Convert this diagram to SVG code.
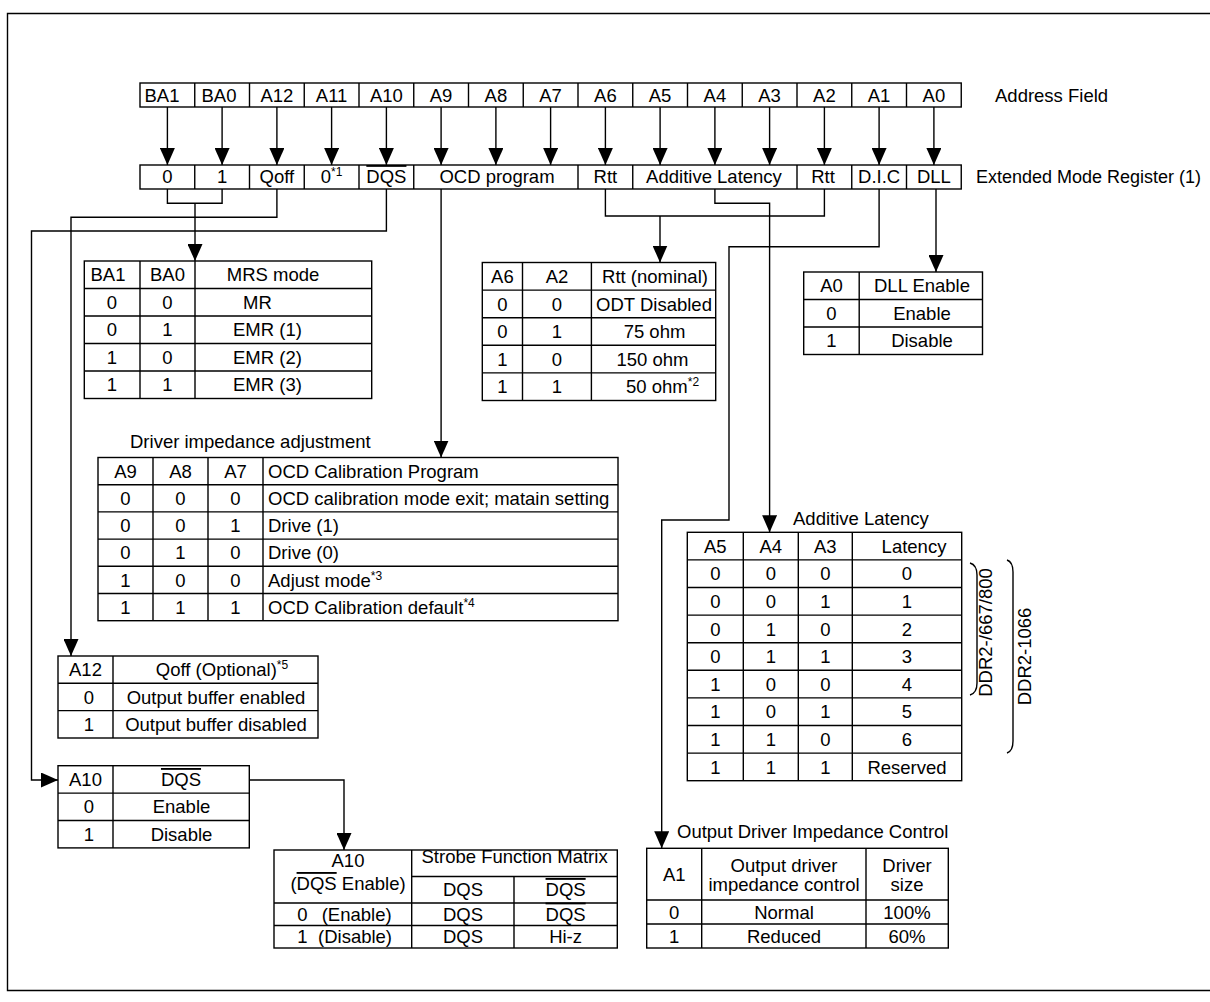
<svg xmlns="http://www.w3.org/2000/svg" width="1210" height="1002" viewBox="0 0 1210 1002">
<defs>
<marker id="ah" markerUnits="userSpaceOnUse" viewBox="0 0 17 15" markerWidth="17" markerHeight="15" refX="17" refY="7.5" orient="auto"><path d="M0,0 L17,7.5 L0,15 Z" fill="#000"/></marker>
<style>
text{font-family:"Liberation Sans",Arial,Helvetica,sans-serif;font-size:18.5px;fill:#000}
.c{text-anchor:middle}
.cell{fill:#fff;stroke:#000;stroke-width:1.4}
.ln{fill:none;stroke:#000;stroke-width:1.4}
.w{fill:none;stroke:#000;stroke-width:1.4}
.a{fill:none;stroke:#000;stroke-width:1.4;marker-end:url(#ah)}
.ov{text-decoration:overline}
.sup{font-size:12px}
</style>
</defs>
<rect width="1210" height="1002" fill="#fff"/>
<path class="ln" d="M1210,13.5H7.5V990.5H1210"/>

<g id="address-field">
<rect class="cell" x="140" y="83" width="821.25" height="24"/>
<path class="ln" d="M194.75,83V107M249.5,83V107M304.25,83V107M359,83V107M413.75,83V107M468.5,83V107M523.25,83V107M578,83V107M632.75,83V107M687.5,83V107M742.25,83V107M797,83V107M851.75,83V107M906.5,83V107"/>
<text class="c" x="162" y="101.5">BA1</text>
<text class="c" x="219" y="101.5">BA0</text>
<text class="c" x="276.9" y="101.5">A12</text>
<text class="c" x="331.6" y="101.5">A11</text>
<text class="c" x="386.4" y="101.5">A10</text>
<text class="c" x="441.1" y="101.5">A9</text>
<text class="c" x="495.9" y="101.5">A8</text>
<text class="c" x="550.6" y="101.5">A7</text>
<text class="c" x="605.4" y="101.5">A6</text>
<text class="c" x="660.1" y="101.5">A5</text>
<text class="c" x="714.9" y="101.5">A4</text>
<text class="c" x="769.6" y="101.5">A3</text>
<text class="c" x="824.4" y="101.5">A2</text>
<text class="c" x="879.1" y="101.5">A1</text>
<text class="c" x="933.9" y="101.5">A0</text>
<text x="995" y="101.5">Address Field</text>
</g>

<g id="emr1">
<rect class="cell" x="140" y="165" width="821.25" height="24"/>
<path class="ln" d="M194.75,165V189M249.5,165V189M304.25,165V189M359,165V189M413.75,165V189M578,165V189M632.75,165V189M797,165V189M851.75,165V189M906.5,165V189"/>
<text class="c" x="167.4" y="183">0</text>
<text class="c" x="222.1" y="183">1</text>
<text class="c" x="276.9" y="183">Qoff</text>
<text class="c" x="331.6" y="183">0<tspan class="sup" dy="-7">*1</tspan></text>
<text class="c" x="386.4" y="183"><tspan class="ov">DQS</tspan></text>
<text class="c" x="497" y="183">OCD program</text>
<text class="c" x="605.4" y="183">Rtt</text>
<text class="c" x="714" y="183">Additive Latency</text>
<text class="c" x="823" y="183">Rtt</text>
<text class="c" x="879.1" y="183">D.I.C</text>
<text class="c" x="933.9" y="183">DLL</text>
<text x="976" y="183" style="font-size:18px">Extended Mode Register (1)</text>
</g>

<g id="connectors">
<path class="a" d="M167.4,107V165"/>
<path class="a" d="M222.1,107V165"/>
<path class="a" d="M276.9,107V165"/>
<path class="a" d="M331.6,107V165"/>
<path class="a" d="M386.4,107V165"/>
<path class="a" d="M441.1,107V165"/>
<path class="a" d="M495.9,107V165"/>
<path class="a" d="M550.6,107V165"/>
<path class="a" d="M605.4,107V165"/>
<path class="a" d="M660.1,107V165"/>
<path class="a" d="M714.9,107V165"/>
<path class="a" d="M769.6,107V165"/>
<path class="a" d="M824.4,107V165"/>
<path class="a" d="M879.1,107V165"/>
<path class="a" d="M933.9,107V165"/>
<path class="w" d="M167.4,189V203.3H222.1V189"/>
<path class="a" d="M195,203.3V261"/>
<path class="a" d="M276.9,189V217.3H71V656"/>
<path class="a" d="M386.4,189V231H31.5V780H58"/>
<path class="a" d="M441.1,189V457.5"/>
<path class="w" d="M605.4,189V216H824.4V189"/>
<path class="a" d="M660,216V262.5"/>
<path class="a" d="M714.9,189V203.3H769.6V532.3"/>
<path class="a" d="M879.1,189V246.7H729V520H661.7V848.3"/>
<path class="a" d="M936,189V272"/>
<path class="a" d="M249.3,780H344V850"/>
</g>

<g id="mrs-table">
<rect class="cell" x="84.3" y="261" width="287.4" height="137.5"/>
<path class="ln" d="M140,261V398.5M195,261V398.5M84.3,288.5H371.7M84.3,316H371.7M84.3,343.5H371.7M84.3,371H371.7"/>
<text class="c" x="108" y="281.3">BA1</text>
<text class="c" x="167.5" y="281.3">BA0</text>
<text class="c" x="273" y="281.3">MRS mode</text>
<text class="c" x="112" y="308.8">0</text><text class="c" x="167.5" y="308.8">0</text><text x="243" y="308.8">MR</text>
<text class="c" x="112" y="336.3">0</text><text class="c" x="167.5" y="336.3">1</text><text x="233" y="336.3">EMR (1)</text>
<text class="c" x="112" y="363.8">1</text><text class="c" x="167.5" y="363.8">0</text><text x="233" y="363.8">EMR (2)</text>
<text class="c" x="112" y="391.3">1</text><text class="c" x="167.5" y="391.3">1</text><text x="233" y="391.3">EMR (3)</text>
</g>

<g id="rtt-table">
<rect class="cell" x="482.3" y="262.5" width="233.4" height="138"/>
<path class="ln" d="M522.5,262.5V400.5M591.4,262.5V400.5M482.3,290.1H715.7M482.3,317.7H715.7M482.3,345.3H715.7M482.3,372.9H715.7"/>
<text class="c" x="502.4" y="282.9">A6</text>
<text class="c" x="557" y="282.9">A2</text>
<text class="c" x="655" y="282.9">Rtt (nominal)</text>
<text class="c" x="502.4" y="310.5">0</text><text class="c" x="557" y="310.5">0</text><text class="c" x="654" y="310.5">ODT Disabled</text>
<text class="c" x="502.4" y="338.1">0</text><text class="c" x="557" y="338.1">1</text><text class="c" x="654.5" y="338.1">75 ohm</text>
<text class="c" x="502.4" y="365.7">1</text><text class="c" x="557" y="365.7">0</text><text class="c" x="652.5" y="365.7">150 ohm</text>
<text class="c" x="502.4" y="393.3">1</text><text class="c" x="557" y="393.3">1</text><text x="626" y="393.3">50 ohm<tspan class="sup" dy="-7">*2</tspan></text>
</g>

<g id="dll-table">
<rect class="cell" x="803.7" y="272" width="178.8" height="82.5"/>
<path class="ln" d="M859.2,272V354.5M803.7,299.5H982.5M803.7,327H982.5"/>
<text class="c" x="831.5" y="292.4">A0</text>
<text class="c" x="922" y="292.4">DLL Enable</text>
<text class="c" x="831.5" y="319.9">0</text><text class="c" x="922" y="319.9">Enable</text>
<text class="c" x="831.5" y="347.4">1</text><text class="c" x="922" y="347.4">Disable</text>
</g>

<g id="ocd-table">
<text x="130" y="448">Driver impedance adjustment</text>
<rect class="cell" x="98" y="457.5" width="520" height="163.2"/>
<path class="ln" d="M153,457.5V620.7M208,457.5V620.7M263,457.5V620.7M98,484.7H618M98,511.9H618M98,539.1H618M98,566.3H618M98,593.5H618"/>
<text class="c" x="125.5" y="477.7">A9</text><text class="c" x="180.5" y="477.7">A8</text><text class="c" x="235.5" y="477.7">A7</text><text x="268" y="477.7">OCD Calibration Program</text>
<text class="c" x="125.5" y="504.9">0</text><text class="c" x="180.5" y="504.9">0</text><text class="c" x="235.5" y="504.9">0</text><text x="268" y="504.9">OCD calibration mode exit; matain setting</text>
<text class="c" x="125.5" y="532.1">0</text><text class="c" x="180.5" y="532.1">0</text><text class="c" x="235.5" y="532.1">1</text><text x="268" y="532.1">Drive (1)</text>
<text class="c" x="125.5" y="559.3">0</text><text class="c" x="180.5" y="559.3">1</text><text class="c" x="235.5" y="559.3">0</text><text x="268" y="559.3">Drive (0)</text>
<text class="c" x="125.5" y="586.5">1</text><text class="c" x="180.5" y="586.5">0</text><text class="c" x="235.5" y="586.5">0</text><text x="268" y="586.5">Adjust mode<tspan class="sup" dy="-7">*3</tspan></text>
<text class="c" x="125.5" y="613.7">1</text><text class="c" x="180.5" y="613.7">1</text><text class="c" x="235.5" y="613.7">1</text><text x="268" y="613.7">OCD Calibration default<tspan class="sup" dy="-7">*4</tspan></text>
</g>

<g id="qoff-table">
<rect class="cell" x="58" y="656" width="260" height="82"/>
<path class="ln" d="M113,656V738M58,683.3H318M58,710.6H318"/>
<text class="c" x="85.5" y="676.3">A12</text>
<text class="c" x="222" y="676.3">Qoff (Optional)<tspan class="sup" dy="-7">*5</tspan></text>
<text class="c" x="89" y="703.6">0</text><text class="c" x="216" y="703.6">Output buffer enabled</text>
<text class="c" x="89" y="730.9">1</text><text class="c" x="216" y="730.9">Output buffer disabled</text>
</g>

<g id="a10-table">
<rect class="cell" x="58" y="765.7" width="191.3" height="82.2"/>
<path class="ln" d="M113,765.7V847.9M58,793.1H249.3M58,820.5H249.3"/>
<text class="c" x="85.5" y="786">A10</text>
<text class="c" x="181" y="786"><tspan class="ov">DQS</tspan></text>
<text class="c" x="89" y="813.4">0</text><text class="c" x="181.5" y="813.4">Enable</text>
<text class="c" x="89" y="840.8">1</text><text class="c" x="181.5" y="840.8">Disable</text>
</g>

<g id="strobe-table">
<rect class="cell" x="274" y="850" width="343.3" height="98"/>
<path class="ln" d="M411.7,850V948M514,876.5V948M411.7,876.5H617.3M274,903H617.3M274,925.5H617.3"/>
<text class="c" x="348" y="866.7">A10</text>
<text class="c" x="348" y="890">(<tspan class="ov">DQS</tspan> Enable)</text>
<text class="c" x="514.6" y="863">Strobe Function Matrix</text>
<text class="c" x="463" y="896">DQS</text>
<text class="c" x="565.6" y="896"><tspan class="ov">DQS</tspan></text>
<text class="c" x="302.5" y="920.5">0</text><text x="321.7" y="920.5">(Enable)</text><text class="c" x="463" y="920.5">DQS</text><text class="c" x="565.6" y="920.5"><tspan class="ov">DQS</tspan></text>
<text class="c" x="302.5" y="943">1</text><text x="318" y="943">(Disable)</text><text class="c" x="463" y="943">DQS</text><text class="c" x="565.6" y="943">Hi-z</text>
</g>

<g id="al-table">
<text x="793" y="525">Additive Latency</text>
<rect class="cell" x="687.3" y="532.3" width="274.4" height="248.4"/>
<path class="ln" d="M743.3,532.3V780.7M798.3,532.3V780.7M852.3,532.3V780.7M687.3,559.9H961.7M687.3,587.5H961.7M687.3,615.1H961.7M687.3,642.7H961.7M687.3,670.3H961.7M687.3,697.9H961.7M687.3,725.5H961.7M687.3,753.1H961.7"/>
<text class="c" x="715.3" y="552.7">A5</text><text class="c" x="770.8" y="552.7">A4</text><text class="c" x="825.3" y="552.7">A3</text><text class="c" x="914" y="552.7">Latency</text>
<text class="c" x="715.3" y="580.3">0</text><text class="c" x="770.8" y="580.3">0</text><text class="c" x="825.3" y="580.3">0</text><text class="c" x="907" y="580.3">0</text>
<text class="c" x="715.3" y="607.9">0</text><text class="c" x="770.8" y="607.9">0</text><text class="c" x="825.3" y="607.9">1</text><text class="c" x="907" y="607.9">1</text>
<text class="c" x="715.3" y="635.5">0</text><text class="c" x="770.8" y="635.5">1</text><text class="c" x="825.3" y="635.5">0</text><text class="c" x="907" y="635.5">2</text>
<text class="c" x="715.3" y="663.1">0</text><text class="c" x="770.8" y="663.1">1</text><text class="c" x="825.3" y="663.1">1</text><text class="c" x="907" y="663.1">3</text>
<text class="c" x="715.3" y="690.7">1</text><text class="c" x="770.8" y="690.7">0</text><text class="c" x="825.3" y="690.7">0</text><text class="c" x="907" y="690.7">4</text>
<text class="c" x="715.3" y="718.3">1</text><text class="c" x="770.8" y="718.3">0</text><text class="c" x="825.3" y="718.3">1</text><text class="c" x="907" y="718.3">5</text>
<text class="c" x="715.3" y="745.9">1</text><text class="c" x="770.8" y="745.9">1</text><text class="c" x="825.3" y="745.9">0</text><text class="c" x="907" y="745.9">6</text>
<text class="c" x="715.3" y="773.5">1</text><text class="c" x="770.8" y="773.5">1</text><text class="c" x="825.3" y="773.5">1</text><text class="c" x="907" y="773.5">Reserved</text>
<path class="ln" d="M970,563Q977,565 977,575V683Q977,693 970,695"/>
<path class="ln" d="M1007,560Q1013,562 1013,572V741Q1013,751 1007,753"/>
<text class="c" transform="translate(992,632.5) rotate(-90)">DDR2-/667/800</text>
<text class="c" transform="translate(1030.5,656.5) rotate(-90)">DDR2-1066</text>
</g>

<g id="odic-table">
<text x="677" y="838">Output Driver Impedance Control</text>
<rect class="cell" x="646.7" y="848.3" width="301.6" height="99.7"/>
<path class="ln" d="M701.7,848.3V948M866,848.3V948M646.7,900H948.3M646.7,924H948.3"/>
<text class="c" x="674.2" y="881">A1</text>
<text class="c" x="784" y="871.7">Output driver</text>
<text class="c" x="784" y="890.5">impedance control</text>
<text class="c" x="907" y="871.7">Driver</text>
<text class="c" x="907" y="890.5">size</text>
<text class="c" x="674.2" y="918.5">0</text><text class="c" x="784" y="918.5">Normal</text><text class="c" x="907" y="918.5">100%</text>
<text class="c" x="674.2" y="942.5">1</text><text class="c" x="784" y="942.5">Reduced</text><text class="c" x="907" y="942.5">60%</text>
</g>
</svg>
